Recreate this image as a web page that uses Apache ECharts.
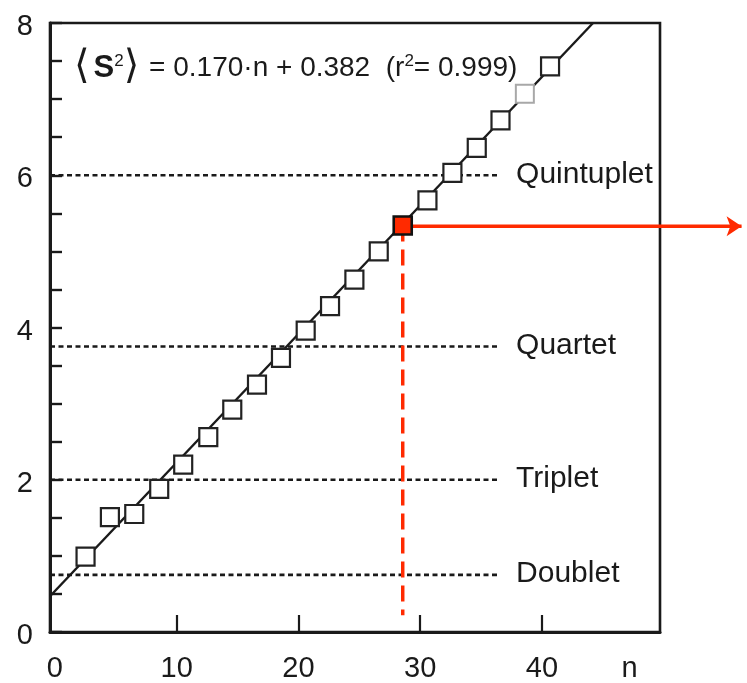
<!DOCTYPE html>
<html lang="en">
<head>
    <meta charset="UTF-8">
    <title>S2 vs n</title>
    <script src="https://cdn.jsdelivr.net/npm/echarts@6/dist/echarts.min.js"></script>
    <style type="text/css">
        *{
            padding: 0px;
            margin: 0px;
        }
        #main{
            width: 747px;
            height: 683px;
        }
    </style>
</head>
<body>
<div id="main"></div>
<script>
    // data points
    var nValues  = [2.52, 4.52, 6.52, 8.57, 10.54, 12.6, 14.57, 16.6, 18.57, 20.6,
                    22.6, 24.6, 26.6, 28.57, 30.6, 32.65, 34.65, 36.6, 38.6, 40.67];
    var s2Values = [0.99, 1.51, 1.55, 1.88, 2.20, 2.56, 2.92, 3.25, 3.60, 3.96,
                    4.28, 4.63, 5.00, 5.34, 5.67, 6.03, 6.36, 6.72, 7.07, 7.43];
    var hiIndex = 13;      // red point
    var greyIndex = 18;    // faint point

    // fit line end points
    var fitN  = [-0.4, 44.2];
    var fitS2 = [0.47, 8.0];

    // spin levels
    var levelNames  = ['Doublet', 'Triplet', 'Quartet', 'Quintuplet'];
    var levelValues = [0.75, 2, 3.75, 6];
    var levelFrom = -0.4, levelTo = 36.4;

    // axes
    var xMin = -0.4, xMax = 49.7;
    var xTicks  = [10, 20, 30, 40];
    var xLabels = [0, 10, 20, 30, 40];
    var nNamePos = 47.2;
    var yTickLabels = [0, 2, 4, 6, 8];

    // red guides
    var arrowEndN = 56.4;
    var dropEndS2 = 0.22;

    var font = 'Liberation Sans, Arial, sans-serif';
    var ink = '#1a1a1a';
    var red = '#ff2a00';

    // layout: plot box and a wider overlay grid (same scale) for the arrow leaving the box
    var W = 747, gLeft = 50, gRight = 87, gTop = 23, gBottom = 49;
    var wideMax = xMin + (W - gLeft) * (xMax - xMin) / (W - gLeft - gRight);

    var series = [];

    // fit line
    series.push({
        type: 'line',
        data: [[fitN[0], fitS2[0]], [fitN[1], fitS2[1]]],
        symbol: 'none',
        lineStyle: {color: ink, width: 2.4},
        z: 2,
        silent: true
    });

    // dotted spin levels
    levelValues.forEach(function (v, i) {
        series.push({
            type: 'line',
            name: levelNames[i],
            data: [[levelFrom, v], [levelTo, v]],
            symbol: 'none',
            lineStyle: {color: ink, width: 2.6, type: [5, 3.5]},
            endLabel: {
                show: true,
                formatter: levelNames[i],
                distance: 18,
                fontSize: 30,
                fontFamily: font,
                color: ink,
                offset: [0, -1]
            },
            z: 1,
            silent: true
        });
    });

    // red dashed drop line
    series.push({
        type: 'line',
        data: [[nValues[hiIndex], s2Values[hiIndex]], [nValues[hiIndex], dropEndS2]],
        symbol: 'none',
        lineStyle: {color: red, width: 3.5, type: [16, 8]},
        z: 3,
        silent: true
    });

    // red arrow to the right (on the wide overlay grid)
    series.push({
        type: 'line',
        xAxisIndex: 1,
        yAxisIndex: 1,
        data: [
            {value: [nValues[hiIndex], s2Values[hiIndex]], symbol: 'none'},
            {value: [arrowEndN, s2Values[hiIndex]], symbol: 'arrow', symbolSize: [15, 15], symbolRotate: -90}
        ],
        showSymbol: true,
        itemStyle: {color: red},
        lineStyle: {color: red, width: 3.5},
        z: 3,
        silent: true
    });

    // squares
    series.push({
        type: 'scatter',
        symbol: 'rect',
        symbolSize: 18,
        data: nValues.map(function (n, i) {
            var item = {value: [n, s2Values[i]]};
            if (i === hiIndex) {
                item.itemStyle = {color: red, borderColor: '#111', borderWidth: 2.6};
            } else if (i === greyIndex) {
                item.itemStyle = {color: '#fff', borderColor: '#a8a8a8', borderWidth: 2};
            }
            return item;
        }),
        itemStyle: {color: '#fff', borderColor: '#222', borderWidth: 2.2, opacity: 1},
        z: 5,
        silent: true
    });

    var option = {
        animation: false,
        backgroundColor: '#fff',
        grid: [{
            left: gLeft,
            right: gRight,
            top: gTop,
            bottom: gBottom,
            show: true,
            borderColor: ink,
            borderWidth: 2.6,
            backgroundColor: 'transparent'
        }, {
            left: gLeft,
            right: 0,
            top: gTop,
            bottom: gBottom,
            show: false
        }],
        xAxis: [{
            type: 'value',
            min: xMin,
            max: xMax,
            splitLine: {show: false},
            axisLine: {onZero: false, lineStyle: {color: ink, width: 3}},
            axisTick: {
                show: true,
                inside: true,
                length: 17,
                customValues: xTicks,
                lineStyle: {color: ink, width: 2.2}
            },
            axisLabel: {
                customValues: xLabels.concat([nNamePos]),
                formatter: function (v) { return v > 45 ? 'n' : String(v); },
                fontSize: 29,
                fontFamily: font,
                color: ink,
                margin: 22
            }
        }, {
            type: 'value',
            gridIndex: 1,
            min: xMin,
            max: wideMax,
            show: false
        }],
        yAxis: [{
            type: 'value',
            min: 0,
            max: 8,
            interval: 2,
            splitLine: {show: false},
            axisLine: {show: true, onZero: false, lineStyle: {color: ink, width: 3}},
            axisTick: {show: true, inside: true, length: 12, lineStyle: {color: ink, width: 2.4}},
            minorTick: {show: true, splitNumber: 4, length: 12, lineStyle: {color: ink, width: 2.4}},
            minorSplitLine: {show: false},
            axisLabel: {
                customValues: yTickLabels,
                fontSize: 29,
                fontFamily: font,
                color: ink,
                margin: 17,
                verticalAlign: 'top',
                lineHeight: 8
            }
        }, {
            type: 'value',
            gridIndex: 1,
            min: 0,
            max: 8,
            show: false
        }],
        graphic: [{
            type: 'text',
            left: 74,
            top: 48,
            z: 10,
            style: {
                text: '{br|\u27E8}{s|S}{sup|2}{br|\u27E9}{t| = 0.170\u00B7n + 0.382  (r}{sup|2}{t|= 0.999)}',
                fill: ink,
                rich: {
                    br: {fontSize: 40, fontFamily: 'DejaVu Sans, ' + font, fill: ink, padding: [0, 2, 0, 0]},
                    s: {fontSize: 31, fontFamily: font, fontWeight: 'bold', fill: ink, padding: [0, 0, 0, 2]},
                    sup: {fontSize: 17, fontFamily: font, verticalAlign: 'top', padding: [5, 0, 0, 0], fill: ink},
                    t: {fontSize: 28, fontFamily: font, fill: ink}
                }
            }
        }],
        series: series
    };

    var chart = echarts.init(document.getElementById('main'));
    chart.setOption(option);
</script>
</body>
</html>
